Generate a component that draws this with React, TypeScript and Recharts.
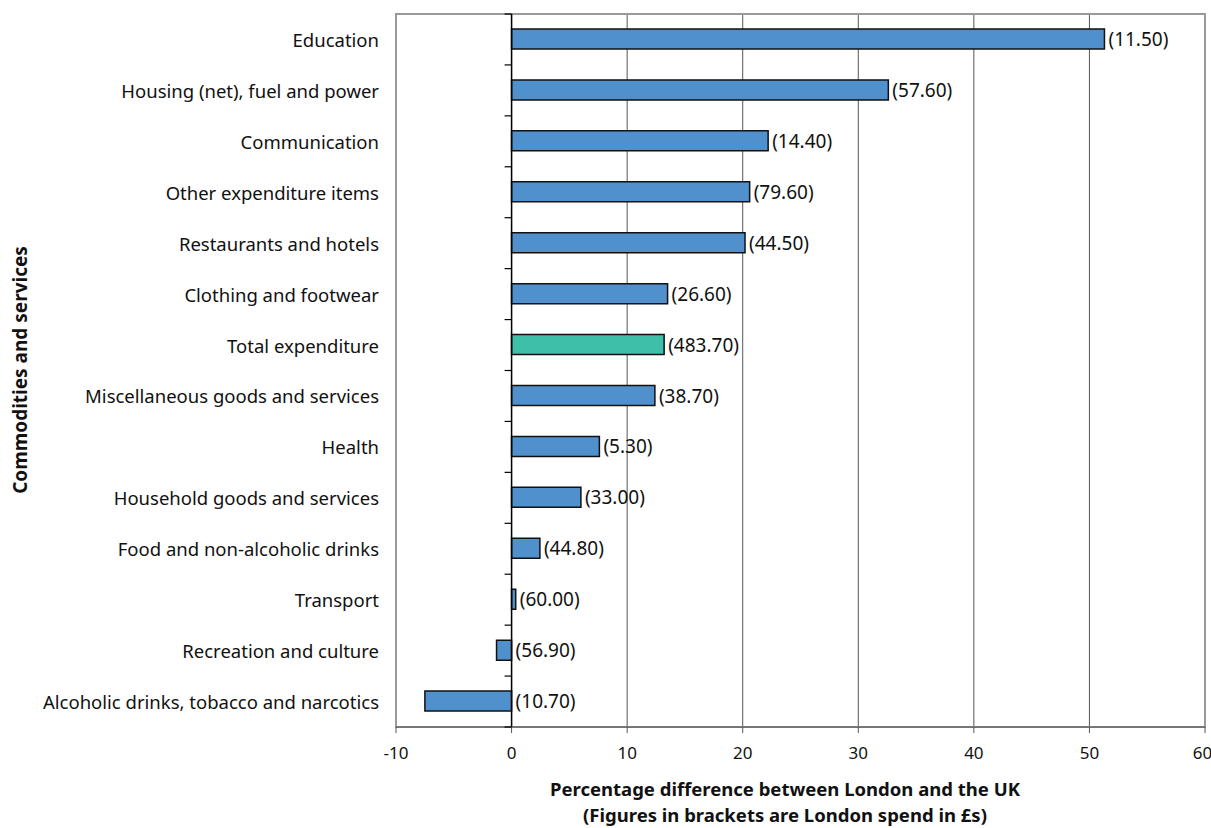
import React from "react"
import {
  BarChart,
  Bar,
  XAxis,
  YAxis,
  CartesianGrid,
  ReferenceLine,
  ReferenceArea,
  LabelList,
  Cell,
} from "recharts"

// categories, top to bottom
const categories = [
  "Education",
  "Housing (net), fuel and power",
  "Communication",
  "Other expenditure items",
  "Restaurants and hotels",
  "Clothing and footwear",
  "Total expenditure",
  "Miscellaneous goods and services",
  "Health",
  "Household goods and services",
  "Food and non-alcoholic drinks",
  "Transport",
  "Recreation and culture",
  "Alcoholic drinks, tobacco and narcotics",
]

// percentage difference London vs UK
const pctDiff = [51.3, 32.6, 22.2, 20.6, 20.2, 13.5, 13.2, 12.4, 7.6, 6.0, 2.45, 0.36, -1.3, -7.5]

// London spend in £s (bracketed labels)
const londonSpend = [
  "(11.50)", "(57.60)", "(14.40)", "(79.60)", "(44.50)", "(26.60)", "(483.70)",
  "(38.70)", "(5.30)", "(33.00)", "(44.80)", "(60.00)", "(56.90)", "(10.70)",
]

const xTicks = [-10, 0, 10, 20, 30, 40, 50, 60]

const chartData = categories.map((name, i) => ({
  name,
  value: pctDiff[i],
  spend: londonSpend[i],
}))

const W = 1211
const H = 828
const MARGIN = { top: 14, right: 6, left: 0, bottom: 0 }
const Y_AXIS_W = 396
const X_AXIS_H = 101
const FONT = "'Noto Sans', sans-serif"

const plotLeft = MARGIN.left + Y_AXIS_W
const plotWidth = W - MARGIN.right - plotLeft
const plotHeight = H - MARGIN.top - MARGIN.bottom - X_AXIS_H
const band = plotHeight / categories.length
const zeroX = plotLeft + ((0 - xTicks[0]) / (xTicks[xTicks.length - 1] - xTicks[0])) * plotWidth

const CategoryTick = (props: any) => {
  const { x, y, payload, index } = props
  return (
    <g>
      <text x={x} y={y} textAnchor="end" dominantBaseline="central" fontSize={18.5} fill="#111" fontFamily={FONT}>
        {payload.value}
      </text>
      <line x1={zeroX - 7} x2={zeroX} y1={y - band / 2} y2={y - band / 2} stroke="#000" strokeWidth={1.2} />
      {index === categories.length - 1 && (
        <line x1={zeroX - 7} x2={zeroX} y1={y + band / 2} y2={y + band / 2} stroke="#000" strokeWidth={1.2} />
      )}
    </g>
  )
}

const SpendLabel = (props: any) => {
  const { x, y, width, height, value } = props
  const end = Math.max(x, x + width)
  return (
    <text x={end + 4} y={y + height / 2} dominantBaseline="central" fontSize={19} fill="#111" fontFamily={FONT}>
      {value}
    </text>
  )
}

export default function App() {
  return (
    <div style={{ position: "fixed", left: 0, top: 0, width: W, height: H, background: "#fff" }}>
      <BarChart
        width={W}
        height={H}
        data={chartData}
        layout="vertical"
        margin={MARGIN}
        barSize={20}
      >
        <CartesianGrid horizontal={false} vertical stroke="#555" strokeWidth={1} />
        <ReferenceArea x1={-10} x2={60} fill="none" stroke="#999" strokeWidth={2} ifOverflow="visible" />
        <XAxis
          type="number"
          domain={[-10, 60]}
          ticks={xTicks}
          height={X_AXIS_H}
          stroke="#555"
          tickSize={6}
          tickMargin={14}
          tick={{ fontSize: 17, fill: "#111", fontFamily: FONT }}
          label={{
            content: () => (
              <g>
                <text x={785} y={796} textAnchor="middle" fontSize={18.5} fontWeight="bold" fill="#111" fontFamily={FONT}>
                  Percentage difference between London and the UK
                </text>
                <text x={785} y={822} textAnchor="middle" fontSize={18.5} fontWeight="bold" fill="#111" fontFamily={FONT}>
                  (Figures in brackets are London spend in £s)
                </text>
              </g>
            ),
          }}
        />
        <YAxis
          type="category"
          dataKey="name"
          width={Y_AXIS_W}
          axisLine={false}
          tickLine={false}
          tickSize={0}
          tickMargin={17}
          interval={0}
          tick={CategoryTick}
          label={{
            content: () => (
              <text
                x={20}
                y={370}
                transform="rotate(-90 20 370)"
                textAnchor="middle"
                dominantBaseline="central"
                fontSize={19}
                fontWeight="bold"
                fill="#111"
                fontFamily={FONT}
              >
                Commodities and services
              </text>
            ),
          }}
        />
        <Bar dataKey="value" stroke="#111" strokeWidth={1.5} isAnimationActive={false}>
          {chartData.map((d) => (
            <Cell key={d.name} fill={d.name === "Total expenditure" ? "#3dbfa9" : "#4f90cd"} />
          ))}
          <LabelList dataKey="spend" content={SpendLabel} />
        </Bar>
        <ReferenceLine x={0} stroke="#000" strokeWidth={1.5} />
      </BarChart>
    </div>
  )
}
